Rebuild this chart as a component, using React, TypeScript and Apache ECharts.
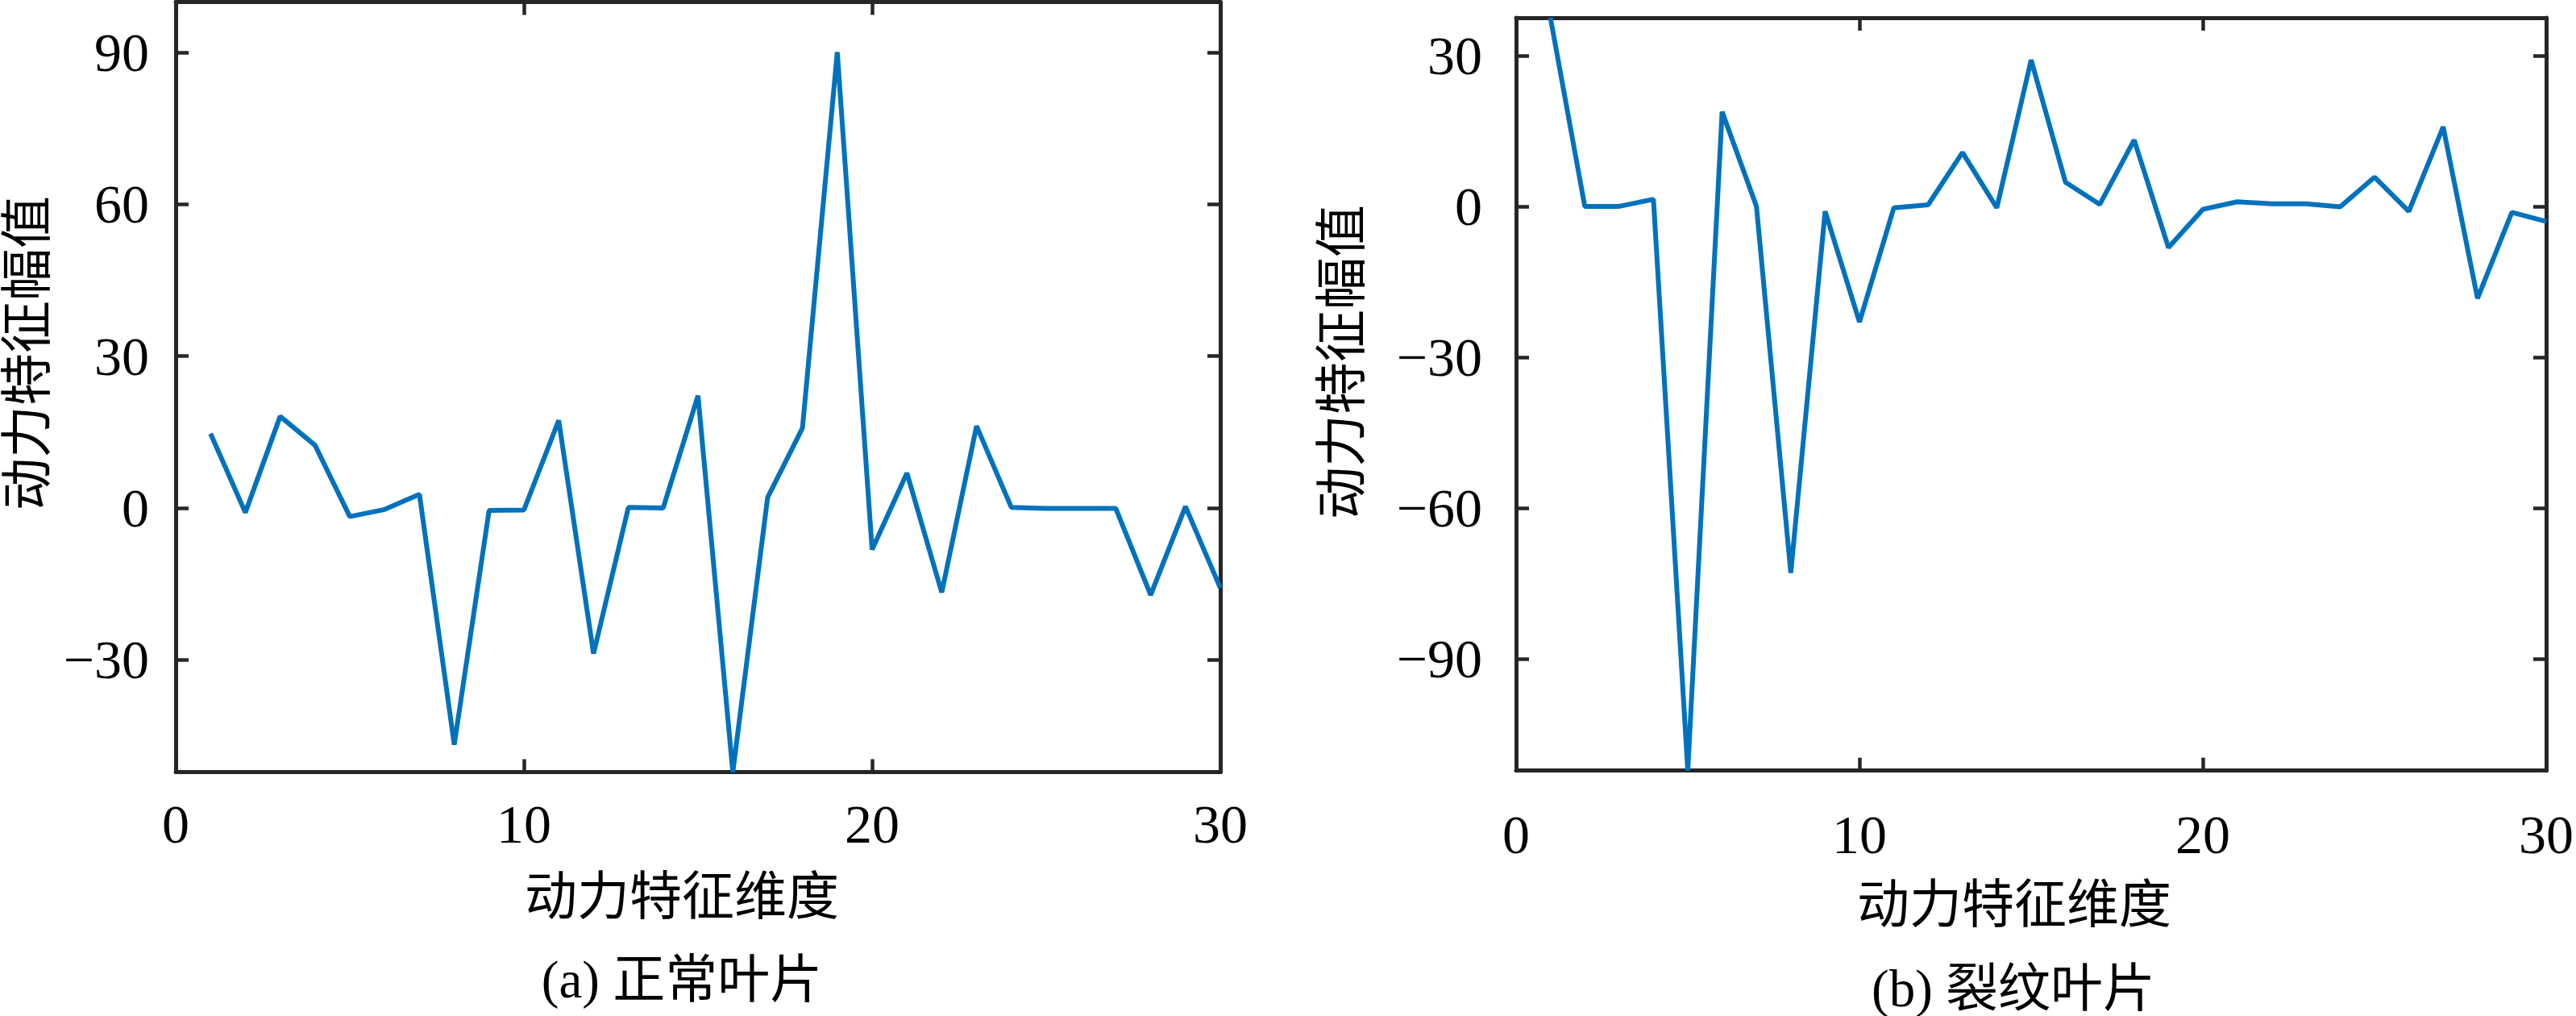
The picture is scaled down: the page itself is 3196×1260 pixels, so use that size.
import React, { useEffect, useRef } from "react";
import * as echarts from "echarts";

const dims = [1, 2, 3, 4, 5, 6, 7, 8, 9, 10, 11, 12, 13, 14, 15, 16, 17, 18, 19, 20, 21, 22, 23, 24, 25, 26, 27, 28, 29, 30];
const normalValues = [14.7, -0.9, 18.1, 12.4, -1.7, -0.3, 2.7, -46.8, -0.5, -0.4, 17.3, -28.8, 0.1, 0, 22.2, -52.2, 2.1, 15.8, 90.1, -8.2, 6.9, -16.7, 16.2, 0.1, -0.1, -0.1, -0.1, -17.2, 0.3, -15.8];
const crackValues = [37.5, 0, 0, 1.4, -112.2, 18.8, 0, -72.9, -1, -23, -0.3, 0.3, 10.7, -0.3, 29.1, 4.8, 0.4, 13.2, -8.2, -0.6, 0.9, 0.5, 0.5, -0.1, 5.8, -1, 15.8, -18.3, -1.2, -3];
const xTicks = [0, 10, 20, 30];
const normalYTicks = [-30, 0, 30, 60, 90];
const crackYTicks = [-90, -60, -30, 0, 30];
const xTitle = "动力特征维度";
const yTitle = "动力特征幅值";
const captionA = "(a) 正常叶片";
const captionB = "(b) 裂纹叶片";

const FONT = "'Liberation Serif', 'Times New Roman', 'Noto Sans CJK SC', serif";
const AXIS_COLOR = "#262626";
const LINE_COLOR = "#0072BD";

const fmt = (v: number) => (v < 0 ? "\u2212" + Math.abs(v) : String(v));

function axisCommon() {
  return {
    axisLine: { show: true, onZero: false, lineStyle: { color: AXIS_COLOR, width: 5 } },
    axisTick: { show: true, inside: true, length: 16, lineStyle: { color: AXIS_COLOR, width: 4.5 } },
    splitLine: { show: false },
  };
}

export default function App() {
  const ref = useRef<HTMLDivElement>(null);
  useEffect(() => {
    if (!ref.current) return;
    const chart = echarts.init(ref.current, undefined, { renderer: "svg" });
    const grids = [
      { left: 218, top: 2.5, width: 1296, height: 955, yMin: -52.2, yMax: 100, yTicks: normalYTicks, yMargin: 33, xMargin: 30 },
      { left: 1881, top: 22, width: 1305, height: 933.7, yMin: -112.2, yMax: 37.5, yTicks: crackYTicks, yMargin: 42, xMargin: 45 },
    ];
    const xAxis: any[] = [];
    const yAxis: any[] = [];
    grids.forEach((g, i) => {
      xAxis.push({
        type: "value", gridIndex: i, position: "bottom", min: 0, max: 30, interval: 10,
        ...axisCommon(),
        axisTick: { ...axisCommon().axisTick, customValues: xTicks },
        axisLabel: { show: true, customValues: xTicks, margin: g.xMargin, fontFamily: FONT, fontSize: 68, color: "#000", formatter: fmt },
      });
      xAxis.push({
        type: "value", gridIndex: i, position: "top", min: 0, max: 30, interval: 10,
        ...axisCommon(),
        axisTick: { ...axisCommon().axisTick, customValues: xTicks },
        axisLabel: { show: false },
      });
      yAxis.push({
        type: "value", gridIndex: i, position: "left", min: g.yMin, max: g.yMax,
        ...axisCommon(),
        axisTick: { ...axisCommon().axisTick, customValues: g.yTicks },
        axisLabel: { show: true, customValues: g.yTicks, margin: g.yMargin, fontFamily: FONT, fontSize: 68, color: "#000", formatter: fmt },
      });
      yAxis.push({
        type: "value", gridIndex: i, position: "right", min: g.yMin, max: g.yMax,
        ...axisCommon(),
        axisTick: { ...axisCommon().axisTick, customValues: g.yTicks },
        axisLabel: { show: false },
      });
    });
    const textStyle = (t: string) => ({ text: t, fontFamily: FONT, fontSize: 65, fill: "#000", textAlign: "center", textVerticalAlign: "middle" });
    chart.setOption({
      animation: false,
      backgroundColor: "#fff",
      grid: grids.map((g) => ({ left: g.left, top: g.top, width: g.width, height: g.height, containLabel: false })),
      xAxis,
      yAxis,
      series: [
        {
          type: "line", xAxisIndex: 0, yAxisIndex: 0, symbol: "none", clip: true,
          lineStyle: { color: LINE_COLOR, width: 6 },
          data: dims.map((d, i) => [d, normalValues[i]]),
        },
        {
          type: "line", xAxisIndex: 2, yAxisIndex: 2, symbol: "none", clip: true,
          lineStyle: { color: LINE_COLOR, width: 6 },
          data: dims.map((d, i) => [d, crackValues[i]]),
        },
      ],
      graphic: [
        { type: "text", x: 34, y: 438, rotation: Math.PI / 2, style: textStyle(yTitle) },
        { type: "text", x: 1665, y: 449, rotation: Math.PI / 2, style: textStyle(yTitle) },
        { type: "text", x: 846, y: 1112, style: textStyle(xTitle) },
        { type: "text", x: 2499, y: 1122, style: textStyle(xTitle) },
        { type: "text", x: 846, y: 1215, style: textStyle(captionA) },
        { type: "text", x: 2498, y: 1226, style: textStyle(captionB) },
      ],
    });
    return () => chart.dispose();
  }, []);
  return <div ref={ref} style={{ position: "absolute", left: 0, top: 0, width: 3196, height: 1260, background: "#fff" }} />;
}
